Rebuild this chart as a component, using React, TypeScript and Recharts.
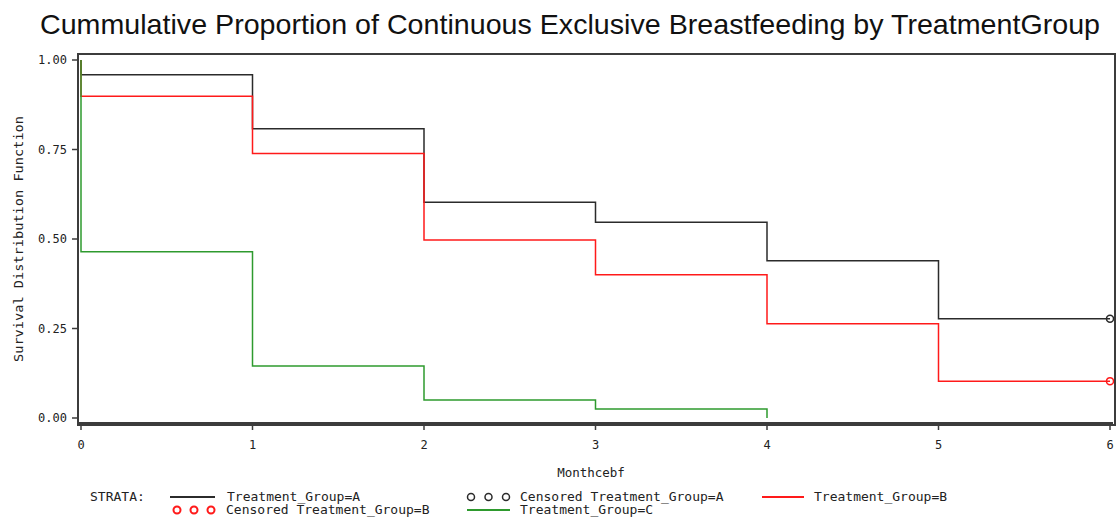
import { LineChart, Line, XAxis, YAxis } from "recharts";

// survival estimates (time in months)
const timesA = [0, 0, 1, 2, 3, 4, 5, 6];
const survA = [1, 0.959, 0.808, 0.603, 0.547, 0.439, 0.277, 0.277];
const timesB = [0, 0, 1, 2, 3, 4, 5, 6];
const survB = [1, 0.899, 0.739, 0.497, 0.4, 0.263, 0.103, 0.103];
const timesC = [0, 0, 1, 2, 3, 4];
const survC = [1, 0.4645, 0.145, 0.05, 0.025, 0];
const censoredA = [6];
const censoredB = [6];

const xTicks = [0, 1, 2, 3, 4, 5, 6];
const yTicks = [0, 0.25, 0.5, 0.75, 1];

const W = 1116;
const H = 517;
const margin = { top: 54, right: 3, bottom: 64, left: 0 };
const yAxisW = 78;
const xAxisH = 30;

const mono = "'DejaVu Sans Mono', monospace";
const frame = "#3c3c3c";

const build = (times: number[], surv: number[], cens: number[]) =>
  times.map((t, i) => ({
    t,
    s: surv[i],
    censored: i === times.length - 1 && cens.includes(t),
  }));

const dataA = build(timesA, survA, censoredA);
const dataB = build(timesB, survB, censoredB);
const dataC = build(timesC, survC, []);

const censorDot = (color: string) => (props: any) => {
  const { cx, cy, payload, index } = props;
  if (!payload || !payload.censored) return <g key={index} />;
  return (
    <circle key={index} cx={cx} cy={cy} r={3.5} fill="none" stroke={color} strokeWidth={1.5} />
  );
};

const plotL = margin.left + yAxisW;
const plotT = margin.top;
const plotR = W - margin.right;
const plotB = H - margin.bottom - xAxisH;

export default function App() {
  return (
    <div style={{ position: "relative", width: W, height: H, background: "#fff" }}>
      <style>{"body{margin:0}"}</style>
      <LineChart width={W} height={H} margin={margin}>
        <XAxis
          dataKey="t"
          type="number"
          domain={[0, 6]}
          ticks={xTicks}
          padding={{ left: 3, right: 3 }}
          height={xAxisH}
          tickSize={7}
          tickMargin={10}
          allowDuplicatedCategory
          axisLine={{ stroke: frame, strokeWidth: 2 }}
          tickLine={{ stroke: frame, strokeWidth: 1.5 }}
          tick={{ fontFamily: mono, fontSize: 12, fill: "#222" }}
        />
        <YAxis
          type="number"
          domain={[0, 1]}
          ticks={yTicks}
          padding={{ top: 6, bottom: 5 }}
          width={yAxisW}
          tickSize={6}
          tickMargin={5}
          tickFormatter={(v: number) => v.toFixed(2)}
          axisLine={{ stroke: frame, strokeWidth: 2 }}
          tickLine={{ stroke: frame, strokeWidth: 1.5 }}
          tick={{ fontFamily: mono, fontSize: 12, fill: "#222" }}
        />
        <Line data={dataA} dataKey="s" type="stepAfter" stroke="#2b2b2b" strokeWidth={1.5} dot={censorDot("#2b2b2b")} activeDot={false} isAnimationActive={false} />
        <Line data={dataB} dataKey="s" type="stepAfter" stroke="#ff1a1a" strokeWidth={1.5} dot={censorDot("#ff1a1a")} activeDot={false} isAnimationActive={false} />
        <Line data={dataC} dataKey="s" type="stepAfter" stroke="#2e9a2e" strokeWidth={1.5} dot={false} activeDot={false} isAnimationActive={false} />
      </LineChart>
      <div
        style={{
          position: "absolute",
          left: plotL - 1,
          top: plotT - 1,
          width: plotR - plotL,
          height: plotB - plotT,
          border: `2px solid ${frame}`,
          pointerEvents: "none",
        }}
      />
      <svg width={W} height={H} style={{ position: "absolute", left: 0, top: 0, pointerEvents: "none" }}>
        <text x={40} y={34} fontFamily="'Liberation Sans', Arial, sans-serif" fontSize={28} fill="#111" textLength={1060} lengthAdjust="spacingAndGlyphs">
          Cummulative Proportion of Continuous Exclusive Breastfeeding by TreatmentGroup
        </text>
        <text x={23} y={239} transform="rotate(-90 23 239)" textAnchor="middle" fontFamily={mono} fontSize={13} fill="#222" textLength={246} lengthAdjust="spacingAndGlyphs">
          Survival Distribution Function
        </text>
        <text x={591} y={477} textAnchor="middle" fontFamily={mono} fontSize={12.5} fill="#222">
          Monthcebf
        </text>
        <g fontFamily={mono} fontSize={13} fill="#222">
          <text x={90} y={501}>STRATA:</text>
          <line x1={170} x2={215} y1={497} y2={497} stroke="#2b2b2b" strokeWidth={2} />
          <text x={227} y={501}>Treatment_Group=A</text>
          {[471, 488.5, 506].map((cx) => (
            <circle key={cx} cx={cx} cy={497} r={3.5} fill="none" stroke="#2b2b2b" strokeWidth={1.5} />
          ))}
          <text x={520} y={501}>Censored Treatment_Group=A</text>
          <line x1={762} x2={804} y1={497} y2={497} stroke="#ff1a1a" strokeWidth={2} />
          <text x={814} y={501}>Treatment_Group=B</text>
          {[177, 194, 211].map((cx) => (
            <circle key={cx} cx={cx} cy={510} r={3.5} fill="none" stroke="#ff1a1a" strokeWidth={2} />
          ))}
          <text x={226} y={514}>Censored Treatment_Group=B</text>
          <line x1={467} x2={510} y1={510} y2={510} stroke="#2e9a2e" strokeWidth={2} />
          <text x={520} y={514}>Treatment_Group=C</text>
        </g>
      </svg>
    </div>
  );
}
